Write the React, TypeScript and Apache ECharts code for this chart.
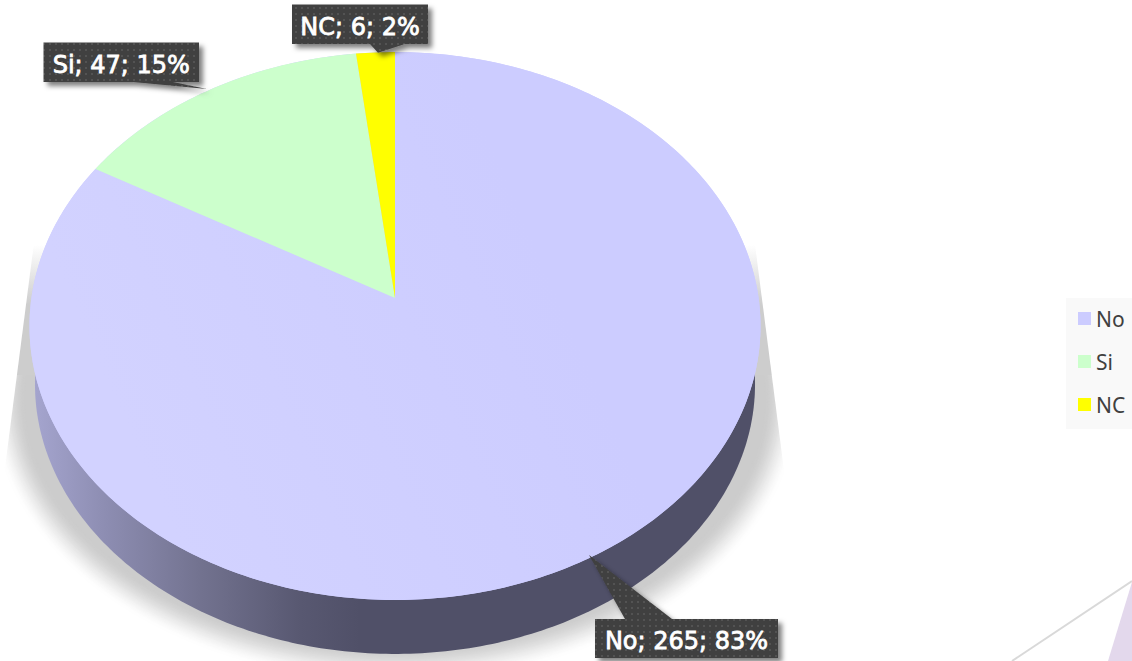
import React, { useEffect, useRef } from "react";
import * as echarts from "echarts";

const categories = ["No", "Si", "NC"];
const values = [265, 47, 6];
const sliceColors = ["#ccccff", "#ccffcc", "#ffff00"];

const W = 1132;
const H = 661;
const total = values.reduce((a, b) => a + b, 0);

// perspective disc
const APEX_X = 395;
const APEX_Y = 298;
const K = 0.1022;
const A = 363.6;
const B = 271.1;
const LOWER_CY = 356.5;
const LOWER_S = 0.985;

function rim(theta: number, cy = APEX_Y, s = 1): number[] {
  const u = Math.sin(theta);
  const v = Math.cos(theta);
  const d = 1 + K * v;
  return [APEX_X + (s * A * u) / d, cy - (s * B * v) / d];
}

function arcPoints(from: number, to: number, cy = APEX_Y, s = 1): number[][] {
  const n = Math.max(3, Math.ceil(Math.abs(to - from) / 0.015));
  const pts: number[][] = [];
  for (let i = 0; i <= n; i++) pts.push(rim(from + ((to - from) * i) / n, cy, s));
  return pts;
}

function sliceRange(index: number): [number, number] {
  let start = 0;
  for (let i = 0; i < index; i++) start += values[i];
  const a0 = (start / total) * Math.PI * 2;
  const a1 = ((start + values[index]) / total) * Math.PI * 2;
  return [a0, a1];
}

function ellipsePoints(cx: number, cy: number, rx: number, ry: number): number[][] {
  const pts: number[][] = [];
  for (let i = 0; i < 240; i++) {
    const t = (i / 240) * Math.PI * 2;
    pts.push([cx + rx * Math.cos(t), cy + ry * Math.sin(t)]);
  }
  return pts;
}

function mix(t: number): string {
  const c = Math.round(255 - (255 - 204) * t);
  return `rgb(${c},${c},${c})`;
}

function smooth(t: number): number {
  return t * t * (3 - 2 * t);
}

function renderBase() {
  const children: any[] = [];
  const steps = 30;
  const spread = 18;
  for (let i = 0; i <= steps; i++) {
    const t = i / steps;
    const d = spread - 2 * spread * t;
    children.push({
      type: "polygon",
      shape: { points: ellipsePoints(APEX_X, 398, 388 + d, 268 + d) },
      style: { fill: mix(smooth(t)) },
    });
  }
  children.push({
    type: "polygon",
    shape: { points: [[15, 240], [15, 375], [775, 375], [775, 240]] },
    style: {
      fill: new echarts.graphic.LinearGradient(
        0, 245, 0, 305,
        [
          { offset: 0, color: "#ffffff" },
          { offset: 1, color: "#cdcdcd" },
        ],
        true
      ),
    },
  });
  // straight cut of the shadow on both sides
  children.push({
    type: "polygon",
    shape: { points: [[0, 190], [40.8, 190], [3, 483], [0, 483]] },
    style: { fill: "#ffffff" },
  });
  children.push({
    type: "polygon",
    shape: { points: [[W, 190], [748, 190], [786, 486], [W, 486]] },
    style: { fill: "#ffffff" },
  });
  children.push({
    type: "polygon",
    shape: { points: arcPoints(0, Math.PI * 2, LOWER_CY, LOWER_S) },
    style: {
      fill: new echarts.graphic.LinearGradient(
        30, 0, 360, 0,
        [
          { offset: 0, color: "#a6a6d0" },
          { offset: 0.22, color: "#8e8eb3" },
          { offset: 0.52, color: "#72728f" },
          { offset: 0.82, color: "#585871" },
          { offset: 1, color: "#505068" },
        ],
        true
      ),
    },
  });
  children.push({
    type: "polygon",
    shape: { points: arcPoints(0, Math.PI * 2) },
    style: { fill: "#ccccff" },
  });
  return { type: "group", children };
}

function renderSlice(index: number) {
  const [a0, a1] = sliceRange(index);
  const points = [[APEX_X, APEX_Y], ...arcPoints(a0, a1)];
  const fill =
    index === 0
      ? new echarts.graphic.LinearGradient(
          150, 480, 560, 300,
          [
            { offset: 0, color: "#d2d2ff" },
            { offset: 1, color: "#ccccff" },
          ],
          true
        )
      : sliceColors[index];
  return { type: "polygon", shape: { points }, style: { fill } };
}

// callout boxes: [left, top, right, bottom], pointer base x0/x1 and tip
const calloutLayout = [
  { box: [595, 619, 778, 658], base: [[625, 658], [672, 619]], tip: [589, 555], side: "top" },
  { box: [43.5, 42.5, 199, 82], base: [[173, 82], [133, 82]], tip: [207, 89], side: "bottom" },
  { box: [292, 4.5, 428, 44], base: [[405, 44], [370, 44]], tip: [378, 52.7], side: "bottom" },
];

function dotPattern(): string {
  const c = document.createElement("canvas");
  c.width = 6;
  c.height = 6;
  const g = c.getContext("2d")!;
  g.fillStyle = "#404040";
  g.fillRect(0, 0, 6, 6);
  g.fillStyle = "#525252";
  g.fillRect(1, 1, 2, 2);
  return c.toDataURL();
}

function renderCallout(index: number, pattern: string) {
  const { box, base, tip, side } = calloutLayout[index];
  const [l, t, r, b] = box;
  const pts =
    side === "top"
      ? [[l, t], [base[0][0], t], tip, [base[1][0], t], [r, t], [r, b], [l, b]]
      : [[l, t], [r, t], [r, b], base[0], tip, base[1], [l, b]];
  const pct = Math.round((values[index] / total) * 100);
  return {
    type: "group",
    children: [
      {
        type: "polygon",
        shape: { points: pts },
        style: {
          fill: { image: pattern, repeat: "repeat", imageWidth: 6, imageHeight: 6 },
          shadowBlur: 5,
          shadowOffsetX: 4,
          shadowOffsetY: 4,
          shadowColor: "rgba(0,0,0,0.5)",
        },
      },
      {
        type: "text",
        style: {
          x: (l + r) / 2,
          y: (t + b) / 2 + 2.5,
          text: `${categories[index]}; ${values[index]}; ${pct}%`,
          fill: "#ffffff",
          stroke: "#ffffff",
          lineWidth: 0.8,
          fontFamily: "DejaVu Sans",
          fontSize: 24,
          align: "center",
          verticalAlign: "middle",
        },
      },
    ],
  };
}

export default function App() {
  const ref = useRef<HTMLDivElement>(null);
  useEffect(() => {
    document.body.style.margin = "0";
    const chart = echarts.init(ref.current!, null, { renderer: "svg" });
    const pattern = dotPattern();
    const series: any[] = [
      {
        type: "custom",
        name: "base",
        coordinateSystem: "none",
        silent: true,
        data: [[total]],
        renderItem: () => renderBase(),
      },
      ...categories.map((name, i) => ({
        type: "custom",
        name,
        coordinateSystem: "none",
        silent: true,
        itemStyle: { color: sliceColors[i] },
        data: [[values[i]]],
        renderItem: () => renderSlice(i),
      })),
      {
        type: "custom",
        name: "labels",
        coordinateSystem: "none",
        silent: true,
        data: values.map((v) => [v]),
        renderItem: (p: any) => renderCallout(p.dataIndex, pattern),
      },
    ];
    chart.setOption({
      animation: false,
      backgroundColor: "#ffffff",
      graphic: [
        {
          type: "polygon",
          shape: { points: [[1132, 582], [1108, 661], [1132, 661]] },
          style: { fill: "#e3d8ec" },
        },
        {
          type: "line",
          shape: { x1: 1132, y1: 581, x2: 1012, y2: 661 },
          style: { stroke: "#d9d9d9", lineWidth: 2 },
        },
      ],
      legend: {
        data: categories,
        orient: "vertical",
        left: 1066,
        top: 298,
        padding: [10, 7, 14, 12],
        backgroundColor: "#f9f9f9",
        itemWidth: 13,
        itemHeight: 13,
        itemGap: 22,
        icon: "rect",
        selectedMode: false,
        textStyle: { color: "#404040", fontSize: 21, fontFamily: "Noto Sans" },
      },
      series,
    });
    return () => chart.dispose();
  }, []);
  return (
    <div
      ref={ref}
      style={{ position: "fixed", left: 0, top: 0, width: W, height: H, overflow: "hidden" }}
    />
  );
}
